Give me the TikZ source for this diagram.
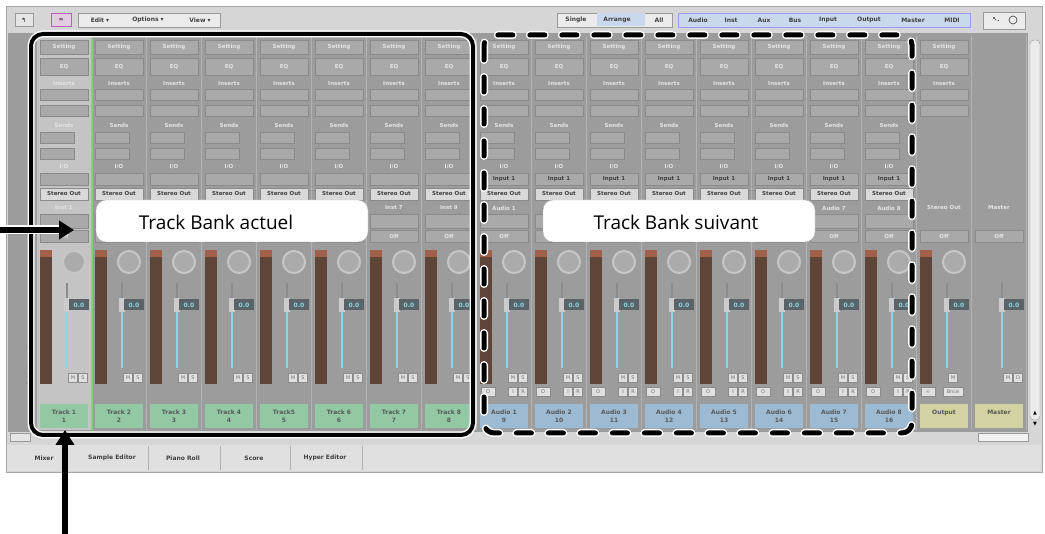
\documentclass[tikz,border=0pt]{standalone}
\usepackage{fontspec}
\setmainfont{DejaVu Sans}
\newfontfamily\callfont{Open Sans}
\usetikzlibrary{arrows.meta}
\definecolor{winbg}{HTML}{D6D6D6}
\definecolor{stripbg}{HTML}{9C9C9C}
\definecolor{stripsel}{HTML}{C4C4C4}
\definecolor{btn}{HTML}{A9A9A9}
\definecolor{btnedge}{HTML}{8A8A8A}
\definecolor{lbltxt}{HTML}{E4E4E4}
\definecolor{meter}{HTML}{5E4538}
\definecolor{meterred}{HTML}{A0604A}
\definecolor{cyanf}{HTML}{8AD6E6}
\definecolor{valbg}{HTML}{5A6468}
\definecolor{trkgreen}{HTML}{92C8A4}
\definecolor{audblue}{HTML}{9CBAD2}
\definecolor{outyel}{HTML}{D2D2A2}
\definecolor{filt}{HTML}{C9D8EC}
\begin{document}
\begin{tikzpicture}[x=1pt,y=-1pt,
  btnS/.style={draw=btnedge,fill=btn,line width=0.5pt},
  stxt/.style={font=\fontsize{5.5}{6}\selectfont\bfseries,text=lbltxt,inner sep=0pt},
  dtxt/.style={font=\fontsize{5.5}{6}\selectfont\bfseries,text=black!75,inner sep=0pt},
  tbtxt/.style={font=\fontsize{6}{7}\selectfont\bfseries,text=black!75,inner sep=0pt},
  callout/.style={fill=white,rounded corners=10pt,draw=black!30,line width=0.4pt},
  calltxt/.style={font=\callfont\fontsize{19}{21}\selectfont,text=black,inner sep=0pt},
  bigarrow/.style={line width=6pt,-{Triangle[length=15pt,width=18pt]}}]
\useasboundingbox (0,0) rectangle (1045,534);
\fill[white] (0,0) rectangle (1045,534);
% window
\fill[winbg,draw=black!35] (6,6) rectangle (1042,472);
\fill[stripbg] (8,33) rectangle (1028,432);
% toolbar
\node[draw=black!40,fill=black!10,minimum width=18pt,minimum height=13pt,inner sep=0pt,font=\fontsize{6}{6}\selectfont] (bk) at (24,20) {↰};
\node[draw=violet!60,fill=violet!20,minimum width=20pt,minimum height=13pt,inner sep=0pt,font=\fontsize{6}{6}\selectfont] (lk) at (61,20) {∞};
\draw[black!40,fill=black!8] (78,13) rectangle (220,27);
\node[tbtxt] (ed) at (100,20) {Edit ▾};
\node[tbtxt] (op) at (148,20) {Options ▾};
\node[tbtxt] (vw) at (200,20) {View ▾};
\draw[black!40,fill=black!8] (557,13) rectangle (672,27);
\fill[filt] (597,13.5) rectangle (645,26.5);
\node[tbtxt] (sg) at (576,20) {Single};
\node[tbtxt] (ar) at (617,20) {Arrange};
\node[tbtxt] (al) at (659,20) {All};
\draw[blue!40,fill=filt] (678,13) rectangle (970,27);
\foreach \t/\x [count=\k] in {Audio/698,Inst/731,Aux/764,Bus/795,Input/828,Output/869,Master/913,MIDI/952}
  \node[tbtxt] (f\k) at (\x,20) {\t};
\draw[black!40,fill=black!8] (983,12) rectangle (1025,29);
\node[tbtxt] (tl) at (996,20) {↖.};
\draw[black!70,line width=0.7pt] (1013,20) circle (4);
% left scale
\foreach \v/\y [count=\k] in {1/272,3/295,6/320,9/338,12/348,18/368,24/376,60/384}
  \node[font=\fontsize{5}{5}\selectfont,text=black!55,inner sep=0pt,anchor=east] (sc\k) at (33,\y) {\v};
% selected strip background
\fill[stripsel] (37,36) rectangle (91,430);
\draw[green!60!black!50,line width=1pt] (92,36) -- (92,430);
% strips
\foreach \i in {0,...,17}{
  \pgfmathsetmacro{\xa}{37+55*\i}
  \draw[black!30] (\xa+54.5,36) -- (\xa+54.5,430);
  \ifnum\i<17
   \node[btnS,minimum width=48pt,minimum height=14pt,inner sep=0pt] (set\i) at (\xa+27,47) {};
   \node[stxt] (sett\i) at (\xa+27,47) {Setting};
   \node[btnS,minimum width=48pt,minimum height=17pt,inner sep=0pt] (eq\i) at (\xa+27,67) {};
   \node[stxt] (eqt\i) at (\xa+27,67) {EQ};
   \node[stxt] (ins\i) at (\xa+27,84) {Inserts};
   \draw[btnS] (\xa+3,89) rectangle (\xa+51,100);
   \draw[btnS] (\xa+3,105) rectangle (\xa+51,116);
  \fi
  \ifnum\i<16
   \node[stxt] (snd\i) at (\xa+27,125) {Sends};
   \draw[btnS] (\xa+3,132) rectangle (\xa+37,143);
   \draw[btnS] (\xa+3,148) rectangle (\xa+37,159);
   \node[stxt] (io\i) at (\xa+27,167) {I/O};
   \draw[btnS] (\xa+3,173) rectangle (\xa+51,185);
   \draw[btnS,fill=black!15] (\xa+3,188) rectangle (\xa+51,200);
   \node[dtxt] (so\i) at (\xa+27,194) {Stereo Out};
   \draw[btnS] (\xa+3,214) rectangle (\xa+51,228);
  \fi
  \draw[btnS] (\xa+3,230) rectangle (\xa+51,242);
  \node[stxt] (off\i) at (\xa+27,236) {Off};
  \ifnum\i<17
   \fill[meter] (\xa+3,250) rectangle (\xa+15,384);
   \fill[meterred] (\xa+3,250) rectangle (\xa+15,257);
   \draw[black!22,fill=black!33,line width=2pt] (\xa+37,262) circle (11);
  \fi
  \draw[black!45,line width=1.5pt] (\xa+30,283) -- (\xa+30,368);
  \draw[cyanf,line width=1.5pt] (\xa+30,310) -- (\xa+30,368);
  \fill[black!20] (\xa+27,298) rectangle (\xa+33,312);
  \node[fill=valbg,minimum width=20pt,minimum height=11pt,inner sep=0pt] (val\i) at (\xa+42,305) {};
  \node[font=\fontsize{6}{6}\selectfont\bfseries,text=cyanf,inner sep=0pt] (vt\i) at (\xa+42,305) {0.0};
  \node[draw=black!45,fill=black!12,minimum size=9pt,inner sep=0pt,font=\fontsize{5}{5}\selectfont,text=black!55] (m\i) at (\xa+36,378) {M};
  \ifnum\i<16
   \node[draw=black!45,fill=black!12,minimum size=9pt,inner sep=0pt,font=\fontsize{5}{5}\selectfont,text=black!55] (s\i) at (\xa+46,378) {S};
  \fi
  \ifnum\i>7 \ifnum\i<16
   \node[draw=black!45,fill=black!12,minimum width=14pt,minimum height=9pt,inner sep=0pt,font=\fontsize{5}{5}\selectfont,text=black!55] (o\i) at (\xa+11,392) {O};
   \node[draw=black!45,fill=black!12,minimum size=9pt,inner sep=0pt,font=\fontsize{5}{5}\selectfont,text=black!55] (ii\i) at (\xa+36,392) {I};
   \node[draw=black!45,fill=black!12,minimum size=9pt,inner sep=0pt,font=\fontsize{5}{5}\selectfont,text=black!55] (r\i) at (\xa+46,392) {R};
  \fi\fi
}
% names
\foreach \n/\i in {Inst 1/0,Inst 7/6,Inst 9/7,Audio 1/8,Audio 7/14,Audio 8/15}
  \node[stxt] (nm\i) at (37+55*\i+27,208) {\n};
\node[stxt] (nm16) at (37+55*16+27,208) {Stereo Out};
\node[stxt] (nm17) at (37+55*17+27,208) {Master};
\foreach \i in {8,...,15}
  \node[dtxt] (in\i) at (37+55*\i+27,179) {Input 1};
% output strip extras
\node[draw=black!45,fill=black!12,minimum width=14pt,minimum height=9pt,inner sep=0pt,font=\fontsize{5}{5}\selectfont,text=black!55] (ol) at (37+55*16+11,392) {∞};
\node[draw=black!45,fill=black!12,minimum width=20pt,minimum height=9pt,inner sep=0pt,font=\fontsize{5}{5}\selectfont,text=black!55] (bn) at (37+55*16+36,392) {Bnce};
\node[draw=black!45,fill=black!12,minimum size=9pt,inner sep=0pt,font=\fontsize{5}{5}\selectfont,text=black!55] (d17) at (37+55*17+46,378) {D};
% track labels
\foreach \t/\nn [count=\k from 0] in {Track 1/1,Track 2/2,Track 3/3,Track 4/4,Track5/5,Track 6/6,Track 7/7,Track 8/8}
  \node[fill=trkgreen,minimum width=48pt,minimum height=24pt,inner sep=0pt,align=center,font=\fontsize{6}{8}\selectfont\bfseries,text=black!65] (tk\k) at (37+55*\k+27,416) {\t\\\nn};
\foreach \k in {8,...,15}{
  \pgfmathtruncatemacro{\a}{\k-7}\pgfmathtruncatemacro{\b}{\k+1}
  \node[fill=audblue,minimum width=48pt,minimum height=24pt,inner sep=0pt,align=center,font=\fontsize{6}{8}\selectfont\bfseries,text=black!65] (tk\k) at (37+55*\k+27,416) {Audio \a\\\b};
}
\node[fill=outyel,minimum width=48pt,minimum height=24pt,inner sep=0pt,font=\fontsize{6}{8}\selectfont\bfseries,text=black!65,text depth=8pt] (tk16) at (37+55*16+27,416) {Output};
\node[fill=outyel,minimum width=48pt,minimum height=24pt,inner sep=0pt,font=\fontsize{6}{8}\selectfont\bfseries,text=black!65,text depth=8pt] (tk17) at (37+55*17+27,416) {Master};
% scrollbar
\draw[black!40,fill=black!8,rounded corners=4pt] (1030,40) rectangle (1040,420);
\node[font=\fontsize{5}{5}\selectfont,inner sep=0pt] (up) at (1035,413) {▲};
\node[font=\fontsize{5}{5}\selectfont,inner sep=0pt] (dn) at (1035,424) {▼};
\draw[black!40,fill=black!5] (978,433) rectangle (1028,441);
% bottom bar
\draw[black!40,fill=black!10] (10,433) rectangle (30,441);
\fill[black!12] (7,445) rectangle (1041,471);
\foreach \t/\x [count=\k] in {Mixer/44,Sample Editor/112,Piano Roll/183,Score/254,Hyper Editor/325}
  \node[tbtxt] (tab\k) at (\x,458) {\t};
\foreach \x in {148,220,290,362} \draw[black!30] (\x,446) -- (\x,470);
% frames
\draw[white,line width=7pt,rounded corners=12pt] (31,34) rectangle (473,435);
\draw[black,line width=4pt,rounded corners=12pt] (31,34) rectangle (473,435);
\draw[white,line width=8pt,line cap=round,dash pattern=on 15pt off 17pt,rounded corners=10pt] (484,35) rectangle (912,433);
\draw[black,line width=5pt,line cap=round,dash pattern=on 15pt off 17pt,rounded corners=10pt] (484,35) rectangle (912,433);
% callouts
\node[callout,minimum width=272pt,minimum height=42pt] (ca) at (232,221) {};
\node[calltxt] (cat) at (216,222) {Track Bank actuel};
\node[callout,minimum width=272pt,minimum height=42pt] (cb) at (679,221) {};
\node[calltxt] (cbt) at (676,222) {Track Bank suivant};
% arrows
\coordinate (la) at (-2,230);
\coordinate (lt) at (74,230);
\coordinate (ua) at (65,536);
\coordinate (ut) at (65,430);
\draw[white,line width=9pt] (la) -- (60,230);
\draw[bigarrow] (la) -- (lt);
\draw[bigarrow] (ua) -- (ut);
\end{tikzpicture}
\end{document}
